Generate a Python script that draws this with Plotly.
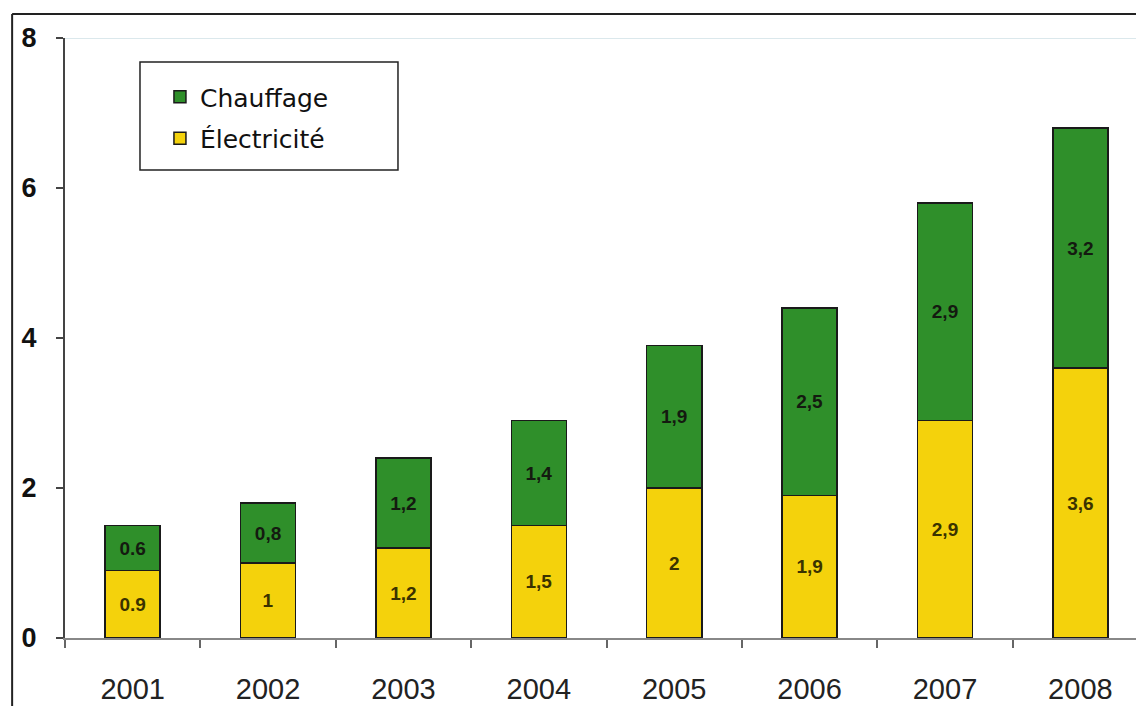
import plotly.graph_objects as go

years = ["2001", "2002", "2003", "2004", "2005", "2006", "2007", "2008"]
electricite = [0.9, 1.0, 1.2, 1.5, 2.0, 1.9, 2.9, 3.6]
chauffage = [0.6, 0.8, 1.2, 1.4, 1.9, 2.5, 2.9, 3.2]
elec_labels = ["0.9", "1", "1,2", "1,5", "2", "1,9", "2,9", "3,6"]
chauf_labels = ["0.6", "0,8", "1,2", "1,4", "1,9", "2,5", "2,9", "3,2"]
y_ticks = [0, 2, 4, 6, 8]

GREEN = "#2f8f2a"
YELLOW = "#f4d20c"

fig = go.Figure()
fig.add_trace(go.Bar(
    x=years, y=electricite, name="Électricité", legendgroup="e", legendrank=2,
    marker=dict(color=YELLOW, line=dict(color="#1a1a1a", width=1.5)),
    text=elec_labels, textposition="inside", insidetextanchor="middle",
    textangle=0, constraintext="none",
    textfont=dict(family="Liberation Sans Narrow, Liberation Sans, Arial", size=19, color="#3a3200", weight="bold"),
    hoverinfo="skip",
))
fig.add_trace(go.Bar(
    x=years, y=chauffage, name="Chauffage", legendgroup="c", legendrank=1,
    marker=dict(color=GREEN, line=dict(color="#1a1a1a", width=1.5)),
    text=chauf_labels, textposition="inside", insidetextanchor="middle",
    textangle=0, constraintext="none",
    textfont=dict(family="Liberation Sans Narrow, Liberation Sans, Arial", size=19, color="#141a10", weight="bold"),
    hoverinfo="skip",
))

fig.update_layout(
    width=1136, height=698,
    margin=dict(l=57, r=0, t=30, b=68, autoexpand=False),
    barmode="stack", bargap=0.593,
    plot_bgcolor="white", paper_bgcolor="white",
    showlegend=True,
    legend=dict(
        x=0.088, y=0.94, xanchor="left", yanchor="top",
        traceorder="grouped", tracegroupgap=6,
        bgcolor="rgba(0,0,0,0)", borderwidth=0,
        font=dict(family="DejaVu Sans, Verdana", size=25, color="#111"),
        itemwidth=30,
    ),
    xaxis=dict(
        range=[-0.5, 7.47], showgrid=False, automargin=False,
        showline=True, linecolor="#888", linewidth=2,
        ticks="outside", tickson="boundaries", ticklen=8, tickcolor="#666", tickwidth=1.5,
        tickfont=dict(family="Liberation Sans, Arial", size=29, color="#222"),
        ticklabelstandoff=24,
    ),
    yaxis=dict(
        range=[0, 8], tickvals=y_ticks, showgrid=False, zeroline=False, automargin=False,
        showline=True, linecolor="#444", linewidth=2,
        ticks="outside", ticklen=7, tickcolor="#444", tickwidth=1.5,
        tickfont=dict(family="Liberation Sans, Arial", size=27, color="#111", weight="bold"),
        ticklabelstandoff=14,
    ),
    shapes=[
        dict(type="line", xref="paper", yref="y", x0=0, x1=1, y0=8, y1=8,
             line=dict(color="#cfe0e6", width=1.5), layer="below"),
        dict(type="rect", xref="paper", yref="paper", x0=0.0695, x1=0.3086, y0=0.78, y1=0.96,
             line=dict(color="#222", width=1.5), fillcolor="white", layer="below"),
        dict(type="line", xref="paper", yref="paper", x0=-0.049, x1=-0.049, y0=-0.2, y1=1.04,
             line=dict(color="#222", width=2)),
        dict(type="line", xref="paper", yref="paper", x0=-0.049, x1=1.0, y0=1.04, y1=1.04,
             line=dict(color="#222", width=2)),
    ],
)

fig.write_html("out.html")
